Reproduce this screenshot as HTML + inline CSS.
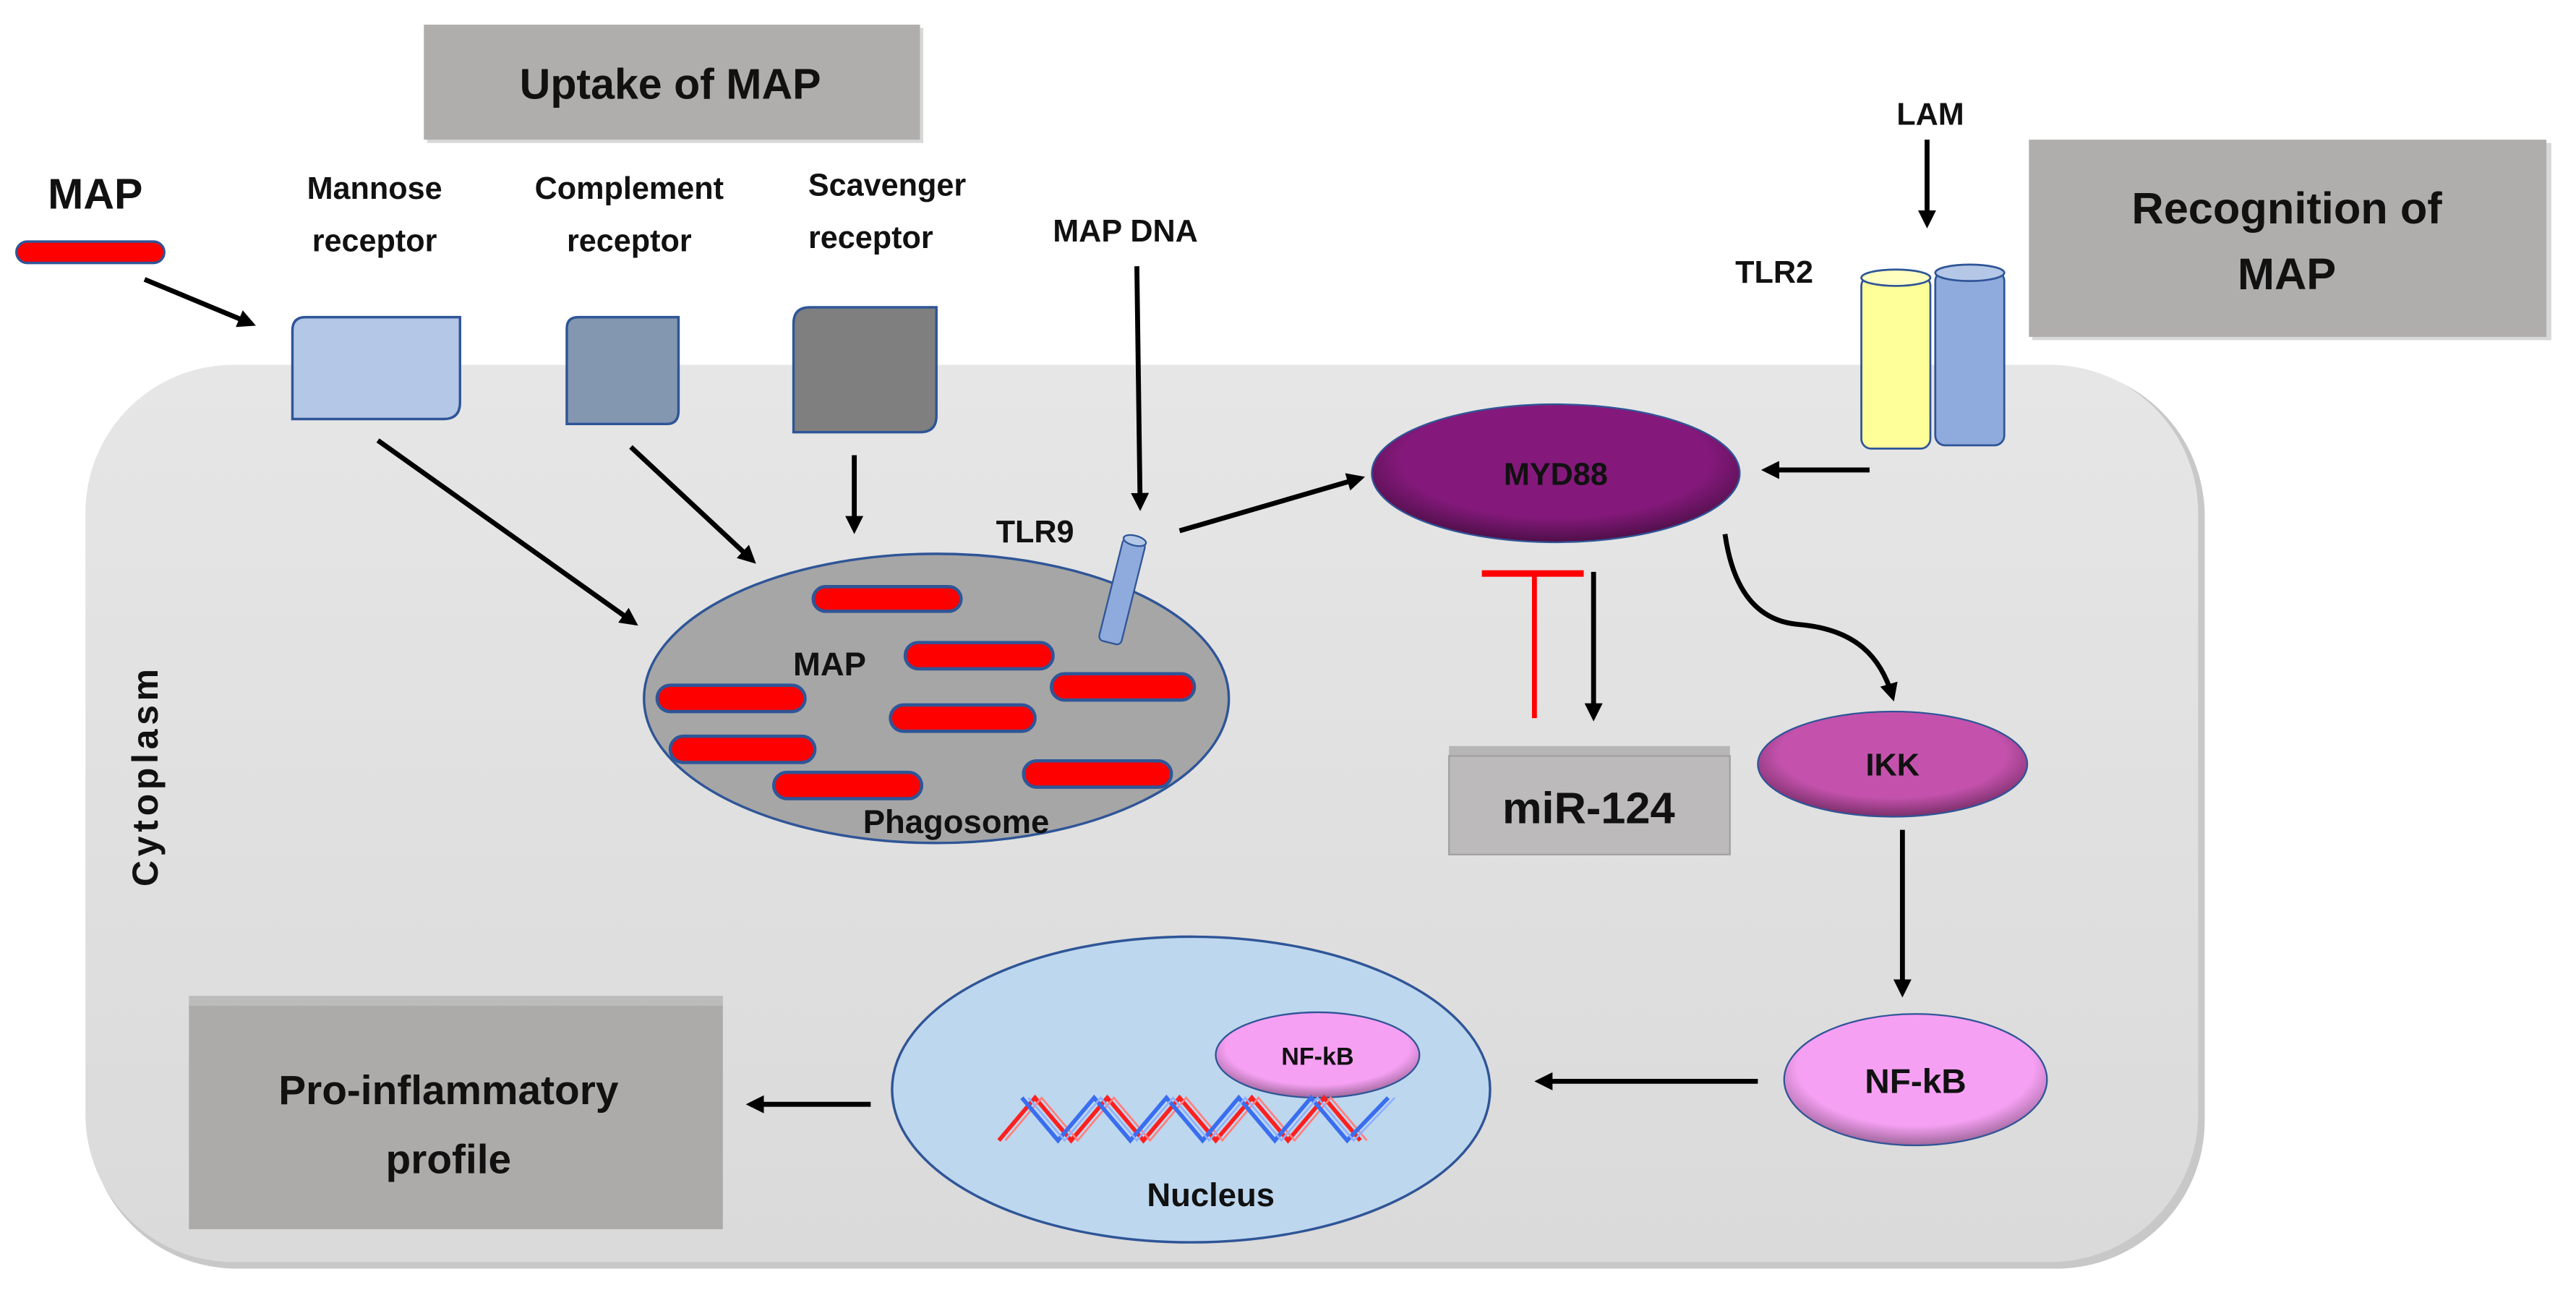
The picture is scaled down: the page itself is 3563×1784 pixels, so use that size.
<!DOCTYPE html>
<html><head><meta charset="utf-8"><style>
html,body{margin:0;padding:0;background:#fff;}
svg{display:block;}
text{font-family:"Liberation Sans",sans-serif;font-weight:bold;fill:#111;}
</style></head><body>
<svg width="3563" height="1784" viewBox="0 0 1568 785" preserveAspectRatio="none" xmlns="http://www.w3.org/2000/svg">
<defs>
<marker id="ah" markerWidth="11" markerHeight="11" refX="8" refY="5.5" orient="auto" markerUnits="userSpaceOnUse"><path d="M0,0 L11,5.5 L0,11 z" fill="#000"/></marker>
<linearGradient id="cell" x1="0" y1="0" x2="0" y2="1"><stop offset="0" stop-color="#e6e6e6"/><stop offset="1" stop-color="#dadada"/></linearGradient>
<radialGradient id="myd" cx="0.5" cy="0.4" r="0.6"><stop offset="0.7" stop-color="#84197b"/><stop offset="1" stop-color="#4e0f48"/></radialGradient>
<radialGradient id="ikk" cx="0.5" cy="0.4" r="0.6"><stop offset="0.7" stop-color="#c452ac"/><stop offset="1" stop-color="#7a2f6a"/></radialGradient>
<radialGradient id="nfkb" cx="0.5" cy="0.4" r="0.6"><stop offset="0.75" stop-color="#f6a0f3"/><stop offset="1" stop-color="#a0679c"/></radialGradient>
</defs>

<rect x="54" y="224" width="1288" height="548" rx="90" ry="90" fill="#c8c8c8"/>
<rect x="52" y="222" width="1286" height="546" rx="90" ry="90" fill="url(#cell)"/>

<rect x="260" y="17" width="302" height="70" fill="#d8d8d8"/>
<rect x="258" y="15" width="302" height="70" fill="#b0aeac"/>
<text x="408" y="60" font-size="26" text-anchor="middle">Uptake of MAP</text>

<rect x="1237" y="87" width="316" height="120" fill="#d8d8d8"/>
<rect x="1235" y="85" width="315" height="120" fill="#b0aeac"/>
<text x="1392" y="136" font-size="27" text-anchor="middle">Recognition of</text>
<text x="1392" y="176" font-size="27" text-anchor="middle">MAP</text>

<text x="58" y="127" font-size="26" text-anchor="middle">MAP</text>
<rect x="10" y="147" width="90" height="13" rx="6.5" fill="#ff0000" stroke="#2f5597" stroke-width="1.5"/>
<line x1="88" y1="170" x2="153" y2="197" stroke="#000" stroke-width="3" marker-end="url(#ah)"/>

<g font-size="19" text-anchor="middle">
<text x="228" y="121">Mannose</text><text x="228" y="153">receptor</text>
<text x="383" y="121">Complement</text><text x="383" y="153">receptor</text>
<text x="540" y="119">Scavenger</text><text x="530" y="151">receptor</text>
<text x="685" y="147">MAP DNA</text>
<text x="630" y="330">TLR9</text>
<text x="1080" y="172">TLR2</text>
<text x="1175" y="76">LAM</text>
</g>

<path d="M186,193 H280 V245 Q280,255 270,255 H178 V201 Q178,193 186,193 Z" fill="#b4c7e7" stroke="#2f5597" stroke-width="1.5"/>
<path d="M352,193 H413 V250 Q413,258 406,258 H345 V200 Q345,193 352,193 Z" fill="#8497b0" stroke="#2f5597" stroke-width="1.5"/>
<path d="M493,187 H570 V253 Q570,263 560,263 H483 V197 Q483,187 493,187 Z" fill="#7f7f7f" stroke="#2f5597" stroke-width="1.5"/>

<g stroke="#000" stroke-width="3" fill="none" marker-end="url(#ah)">
<line x1="230" y1="268" x2="386" y2="379"/>
<line x1="384" y1="272" x2="458" y2="341"/>
<line x1="520" y1="277" x2="520" y2="322"/>
<line x1="692" y1="162" x2="694" y2="308"/>
<line x1="718" y1="323" x2="828" y2="291"/>
<line x1="1173" y1="85" x2="1173" y2="136"/>
<line x1="1138" y1="286" x2="1075" y2="286"/>
<line x1="970" y1="348" x2="970" y2="436"/>
<path d="M1050,325 C1055,360 1070,378 1095,380 C1130,383 1145,400 1152,424"/>
<line x1="1158" y1="505" x2="1158" y2="604"/>
<line x1="1070" y1="658" x2="937" y2="658"/>
<line x1="530" y1="672" x2="457" y2="672"/>
</g>

<ellipse cx="570" cy="425" rx="178" ry="88" fill="#a6a6a6" stroke="#2f5597" stroke-width="1.5"/>
<g fill="#ff0000" stroke="#2f5597" stroke-width="2">
<rect x="495" y="357" width="90" height="15" rx="7.5"/>
<rect x="551" y="391" width="90" height="16" rx="8"/>
<rect x="640" y="410" width="87" height="16" rx="8"/>
<rect x="400" y="417" width="90" height="16" rx="8"/>
<rect x="542" y="429" width="88" height="16" rx="8"/>
<rect x="408" y="448" width="88" height="16" rx="8"/>
<rect x="471" y="470" width="90" height="16" rx="8"/>
<rect x="623" y="463" width="90" height="16" rx="8"/>
</g>
<text x="505" y="411" font-size="20" text-anchor="middle">MAP</text>
<text x="582" y="507" font-size="20" text-anchor="middle">Phagosome</text>

<g transform="translate(683,360) rotate(14)">
<rect x="-7" y="-32" width="14" height="64" rx="3" fill="#8faadc" stroke="#2f5597" stroke-width="1"/>
<ellipse cx="0" cy="-32" rx="7" ry="3" fill="#b4c7e7" stroke="#2f5597" stroke-width="1"/>
</g>

<rect x="1133" y="168" width="42" height="105" rx="6" fill="#ffff99" stroke="#2f5597" stroke-width="1.2"/>
<ellipse cx="1154" cy="169" rx="21" ry="5" fill="#ffffc0" stroke="#2f5597" stroke-width="1.2"/>
<rect x="1178" y="165" width="42" height="106" rx="6" fill="#8faadc" stroke="#2f5597" stroke-width="1.2"/>
<ellipse cx="1199" cy="166" rx="21" ry="5" fill="#b4c7e7" stroke="#2f5597" stroke-width="1.2"/>

<ellipse cx="947" cy="288" rx="112" ry="42" fill="url(#myd)" stroke="#2f5597" stroke-width="1"/>
<text x="947" y="295" font-size="19" text-anchor="middle">MYD88</text>

<line x1="934" y1="348" x2="934" y2="437" stroke="#ff0000" stroke-width="3"/>
<line x1="902" y1="349" x2="964" y2="349" stroke="#ff0000" stroke-width="4"/>

<rect x="882" y="454" width="171" height="8" fill="#9a9a9a" opacity="0.6"/>
<rect x="882" y="460" width="171" height="60" fill="#bcbaba" stroke="#a0a0a0" stroke-width="1"/>
<text x="967" y="501" font-size="27" text-anchor="middle">miR-124</text>

<ellipse cx="1152" cy="465" rx="82" ry="32" fill="url(#ikk)" stroke="#2f5597" stroke-width="1"/>
<text x="1152" y="472" font-size="19" text-anchor="middle">IKK</text>

<ellipse cx="1166" cy="657" rx="80" ry="40" fill="url(#nfkb)" stroke="#2f5597" stroke-width="1"/>
<text x="1166" y="665" font-size="21" text-anchor="middle">NF-kB</text>

<ellipse cx="725" cy="663" rx="182" ry="93" fill="#bdd7ee" stroke="#2f5597" stroke-width="1.5"/>
<ellipse cx="802" cy="642" rx="62" ry="26" fill="url(#nfkb)" stroke="#2f5597" stroke-width="1"/>
<text x="802" y="648" font-size="15" text-anchor="middle">NF-kB</text>
<g fill="none" stroke-width="2.5">
<path d="M608,694 L630,668 L652,694 L674,668 L696,694 L718,668 L740,694 L762,668 L784,694 L806,668 L828,694" stroke="#ff2020"/>
<path d="M612,694 L634,668 L656,694 L678,668 L700,694 L722,668 L744,694 L766,668 L788,694 L810,668 L832,694" stroke="#ff8080" stroke-width="1.2"/>
<path d="M622,668 L644,694 L666,668 L688,694 L710,668 L732,694 L754,668 L776,694 L798,668 L820,694 L845,668" stroke="#3a6ef0"/>
<path d="M626,668 L648,694 L670,668 L692,694 L714,668 L736,694 L758,668 L780,694 L802,668 L824,694 L849,668" stroke="#8fb0ff" stroke-width="1.2"/>
</g>
<text x="737" y="734" font-size="20" text-anchor="middle">Nucleus</text>

<rect x="115" y="606" width="325" height="8" fill="#9a9a9a" opacity="0.5"/>
<rect x="115" y="612" width="325" height="136" fill="#adabaa"/>
<text x="273" y="672" font-size="25" text-anchor="middle">Pro-inflammatory</text>
<text x="273" y="714" font-size="25" text-anchor="middle">profile</text>

<text transform="translate(96,472) rotate(-90)" font-size="22" text-anchor="middle" letter-spacing="2.5">Cytoplasm</text>
</svg>
</body></html>
